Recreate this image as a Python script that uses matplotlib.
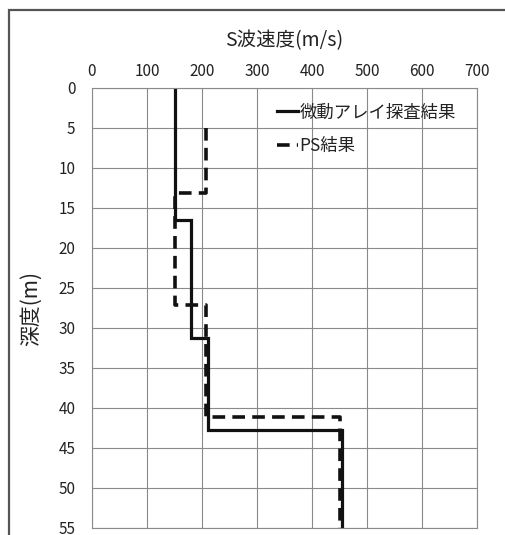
import numpy as np
import matplotlib
matplotlib.use("Agg")
import matplotlib.pyplot as plt
from matplotlib.patches import Rectangle

plt.rcParams['font.family'] = ['Noto Sans CJK JP', 'DejaVu Sans']

# ---- layer data: top depth (m) and S-wave velocity (m/s) ----
array_top = [0, 16.5, 31.3, 42.8]
array_vs = [150, 180, 210, 455]
array_bottom = 55

ps_top = [5.0, 13.1, 27.1, 41.1]
ps_vs = [207, 150, 207, 450]
ps_bottom = 55

x_ticks = [0, 100, 200, 300, 400, 500, 600, 700]
y_ticks = [0, 5, 10, 15, 20, 25, 30, 35, 40, 45, 50, 55]


def profile(tops, vs, bottom):
    """Turn layer tops/velocities into a step polyline (x=velocity, y=depth)."""
    bounds = list(tops) + [bottom]
    xs, ys = [], []
    for i, v in enumerate(vs):
        xs += [v, v]
        ys += [bounds[i], bounds[i + 1]]
    return np.array(xs), np.array(ys)


fig = plt.figure(figsize=(5.05, 5.35), dpi=100)
ax = fig.add_axes([92 / 505, 1 - 528 / 535, 385 / 505, 440 / 535])

xa, ya = profile(array_top, array_vs, array_bottom)
xp, yp = profile(ps_top, ps_vs, ps_bottom)
ax.plot(xa, ya, color='#111111', lw=2.3, solid_joinstyle='miter',
        label='微動アレイ探査結果')
ax.plot(xp, yp, color='#111111', lw=2.6, dashes=(3.5, 2),
        label='PS結果')

ax.set_xlim(0, 700)
ax.set_ylim(55, 0)
ax.set_xticks(x_ticks)
ax.set_yticks(y_ticks)
ax.xaxis.tick_top()
ax.xaxis.set_label_position('top')
ax.tick_params(length=0, labelsize=11, colors='#222222')
ax.tick_params(axis='x', pad=6)
ax.tick_params(axis='y', pad=12)
ax.grid(True, color='#8a8a8a', lw=0.8)
for s in ax.spines.values():
    s.set_color('#8a8a8a')
    s.set_linewidth(0.8)

ax.set_xlabel('S波速度(m/s)', fontsize=14, labelpad=12, color='#222222')
ax.set_ylabel('深度(m)', fontsize=15, labelpad=12, color='#222222')

leg = ax.legend(loc='upper left', bbox_to_anchor=(0.48, 0.965),
                frameon=False, fontsize=12.5, handlelength=1.2,
                handletextpad=0.1, labelspacing=0.9,
                borderpad=0, borderaxespad=0)
for t in leg.get_texts():
    t.set_color('#222222')

# outer frame of the chart
fig.patches.append(Rectangle((9 / 505, -0.02), 1.02, 1 - 10 / 535 + 0.02,
                             transform=fig.transFigure, fill=False,
                             edgecolor='#555555', lw=1.6))

fig.savefig('out.png', dpi=100)
